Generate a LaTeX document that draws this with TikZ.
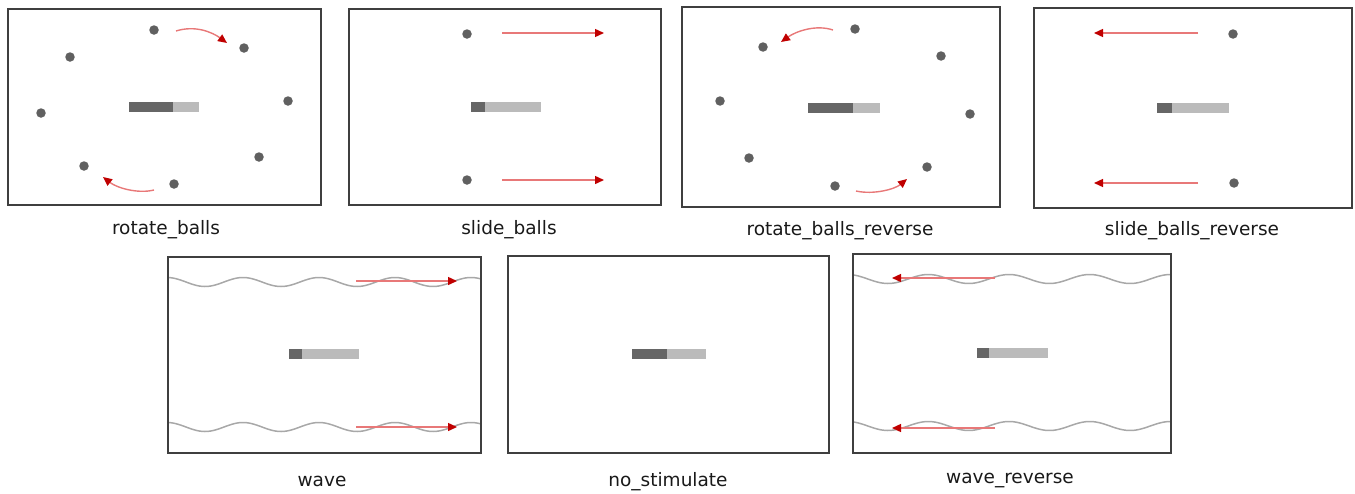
\documentclass[tikz,border=0pt]{standalone}
\usepackage{fontspec}
\setmainfont{DejaVu Sans}
\usetikzlibrary{arrows.meta}
\definecolor{boxc}{HTML}{3F3F3F}
\definecolor{ballc}{HTML}{606060}
\definecolor{bardark}{HTML}{666666}
\definecolor{barlight}{HTML}{BBBBBB}
\definecolor{arrc}{HTML}{E87878}
\definecolor{tipc}{HTML}{C00000}
\definecolor{wavec}{HTML}{A8A8A8}
\tikzset{
  panel/.style={draw=boxc, line width=1.8pt},
  ball/.style={circle, fill=ballc, inner sep=0pt, minimum size=9.5pt},
  redarrow/.style={draw=arrc, line width=1.4pt, -{Triangle[length=9pt,width=8pt,color=tipc,fill=tipc]}},
  wave/.style={draw=wavec, line width=1.5pt},
  lbl/.style={font=\fontsize{18.5}{22}\selectfont, text=black!90, inner sep=0pt}
}
\begin{document}
\begin{tikzpicture}[x=1pt,y=-1pt]
\useasboundingbox (0,0) rectangle (1355,493);
% ---------- panel 1: rotate_balls
\draw[panel] (8,9) rectangle (321,205);
\fill[barlight] (129,102) rectangle (199,112);
\fill[bardark] (129,102) rectangle (173,112);
\node[ball] (a1) at (154,30) {};
\node[ball] (a2) at (244,48) {};
\node[ball] (a3) at (70,57) {};
\node[ball] (a4) at (288,101) {};
\node[ball] (a5) at (41,113) {};
\node[ball] (a6) at (259,157) {};
\node[ball] (a7) at (84,166) {};
\node[ball] (a8) at (174,184) {};
\coordinate (a9) at (176,31); \coordinate (a10) at (227,43);
\coordinate (a11) at (154,190); \coordinate (a12) at (103,177);
\draw[redarrow] (a9) .. controls (195,25) and (212,32) .. (a10);
\draw[redarrow] (a11) .. controls (138,194) and (117,188) .. (a12);
\node[lbl] (la) at (166,230) {rotate\_balls};
% ---------- panel 2: slide_balls
\draw[panel] (349,9) rectangle (661,205);
\fill[barlight] (471,102) rectangle (541,112);
\fill[bardark] (471,102) rectangle (485,112);
\node[ball] (b1) at (467,34) {};
\node[ball] (b2) at (467,180) {};
\coordinate (b3) at (502,33); \coordinate (b4) at (604,33);
\coordinate (b5) at (502,180); \coordinate (b6) at (604,180);
\draw[redarrow] (b3) -- (b4);
\draw[redarrow] (b5) -- (b6);
\node[lbl] (lb) at (509,230) {slide\_balls};
% ---------- panel 3: rotate_balls_reverse
\draw[panel] (682,7) rectangle (1000,207);
\fill[barlight] (808,103) rectangle (880,113);
\fill[bardark] (808,103) rectangle (853,113);
\node[ball] (c1) at (855,29) {};
\node[ball] (c2) at (941,56) {};
\node[ball] (c3) at (763,47) {};
\node[ball] (c4) at (720,101) {};
\node[ball] (c5) at (970,114) {};
\node[ball] (c6) at (749,158) {};
\node[ball] (c7) at (927,167) {};
\node[ball] (c8) at (835,186) {};
\coordinate (c9) at (833,30); \coordinate (c10) at (781,42);
\coordinate (c11) at (856,191); \coordinate (c12) at (907,179);
\draw[redarrow] (c9) .. controls (815,24) and (795,32) .. (c10);
\draw[redarrow] (c11) .. controls (874,195) and (895,189) .. (c12);
\node[lbl] (lc) at (840,231) {rotate\_balls\_reverse};
% ---------- panel 4: slide_balls_reverse
\draw[panel] (1034,8) rectangle (1352,208);
\fill[barlight] (1157,103) rectangle (1229,113);
\fill[bardark] (1157,103) rectangle (1172,113);
\node[ball] (d1) at (1233,34) {};
\node[ball] (d2) at (1234,183) {};
\coordinate (d3) at (1198,33); \coordinate (d4) at (1094,33);
\coordinate (d5) at (1198,183); \coordinate (d6) at (1094,183);
\draw[redarrow] (d3) -- (d4);
\draw[redarrow] (d5) -- (d6);
\node[lbl] (ld) at (1192,231) {slide\_balls\_reverse};
% ---------- panel 5: wave
\begin{scope}
\clip (168,257) rectangle (481,453);
\draw[wave] plot[domain=168:481, samples=120, smooth] (\x, {282+4.5*cos(4.7368*(\x-205))});
\draw[wave] plot[domain=168:481, samples=120, smooth] (\x, {427+4.5*cos(4.7368*(\x-205))});
\end{scope}
\draw[panel] (168,257) rectangle (481,453);
\fill[barlight] (289,349) rectangle (359,359);
\fill[bardark] (289,349) rectangle (302,359);
\coordinate (e1) at (356,281); \coordinate (e2) at (457,281);
\coordinate (e3) at (356,427); \coordinate (e4) at (457,427);
\draw[redarrow] (e1) -- (e2);
\draw[redarrow] (e3) -- (e4);
\node[lbl] (le) at (322,481) {wave};
% ---------- panel 6: no_stimulate
\draw[panel] (508,256) rectangle (829,453);
\fill[barlight] (632,349) rectangle (706,359);
\fill[bardark] (632,349) rectangle (667,359);
\node[lbl] (lf) at (668,482) {no\_stimulate};
% ---------- panel 7: wave_reverse
\begin{scope}
\clip (853,254) rectangle (1171,453);
\draw[wave] plot[domain=853:1171, samples=120, smooth] (\x, {279+4.5*cos(4.461*(\x-888))});
\draw[wave] plot[domain=853:1171, samples=120, smooth] (\x, {426+4.5*cos(4.461*(\x-888))});
\end{scope}
\draw[panel] (853,254) rectangle (1171,453);
\fill[barlight] (977,348) rectangle (1048,358);
\fill[bardark] (977,348) rectangle (989,358);
\coordinate (g1) at (995,278); \coordinate (g2) at (892,278);
\coordinate (g3) at (995,428); \coordinate (g4) at (892,428);
\draw[redarrow] (g1) -- (g2);
\draw[redarrow] (g3) -- (g4);
\node[lbl] (lg) at (1010,480) {wave\_reverse};
\end{tikzpicture}
\end{document}
